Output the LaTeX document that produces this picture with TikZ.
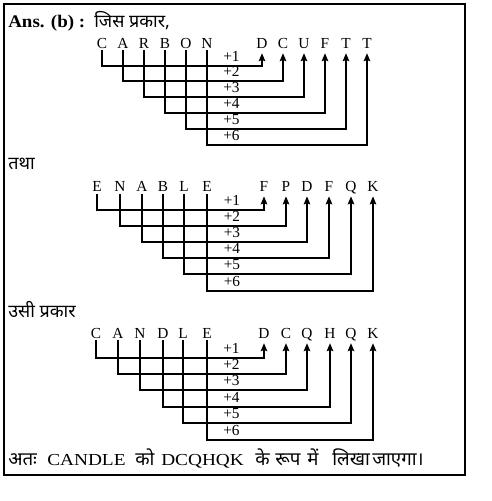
\documentclass[tikz,border=0pt]{standalone}
\usepackage{fontspec}
\setmainfont{Liberation Serif}
\newfontfamily\dev[Script=Devanagari]{Noto Sans}
\newfontfamily\widerm[FakeStretch=1.15]{Liberation Serif}
\newfontfamily\ansrm[FakeStretch=1.07]{Liberation Serif}
\usetikzlibrary{arrows.meta}
\begin{document}
\begin{tikzpicture}[x=0.75pt,y=-0.75pt,
  letter/.style={anchor=base,inner sep=0pt,text depth=0pt,font=\fontsize{11.5}{13}\selectfont},
  plus/.style={anchor=base,inner sep=0pt,font=\fontsize{11.5}{13}\selectfont},
  txt/.style={anchor=base west,inner sep=0pt},
  devtxt/.style={anchor=base west,inner sep=0pt,font=\dev\fontsize{13.5}{15}\selectfont},
  devfin/.style={anchor=base west,inner sep=0pt,font=\dev\fontsize{14}{16}\selectfont},
  fin/.style={anchor=base west,inner sep=0pt,font=\widerm\fontsize{12.6}{14}\selectfont},
  conn/.style={line width=0.9pt,-{Stealth[length=6pt,width=5pt,inset=1pt]}},
  frame/.style={line width=1pt}]
\useasboundingbox (0,0) rectangle (492,501);
\fill[white] (0,0) rectangle (492,501);
\draw[frame] (4,4) rectangle (465,475);

% headings
\node[txt,font=\ansrm\fontsize{13.3}{15}\selectfont\bfseries] (ans) at (8,27) {Ans. (b) :};
\node[devtxt] (h1) at (94,27) {जिस प्रकार,};
\node[devtxt] (h2) at (8,169) {तथा};
\node[devtxt] (h3) at (8,317) {उसी प्रकार};

% block 1: CARBON -> DCUFTT
\foreach \x/\t [count=\i] in {102/C,123/A,144/R,165/B,186/O,207/N}
  \node[letter] (a\i) at (\x,48) {\t};
\foreach \x/\t [count=\i] in {262/D,283/C,304/U,325/F,346/T,367/T}
  \node[letter] (ao\i) at (\x,48) {\t};
\foreach \y [count=\i] in {66,81,97,113,129,145}{
  \coordinate (ar\i) at (0,\y);
  \node[plus] (ap\i) at (231.5,\y-4.5) {+\i};
}
\foreach \i in {1,...,6}
  \draw[conn] ([yshift=-1.5pt]a\i.south) |- (ao\i |- ar\i) -- ([yshift=-3.75pt]ao\i.south);

% block 2: ENABLE -> FPDFQK
\foreach \x/\t [count=\i] in {97/E,120/N,142/A,163/B,184/L,207/E}
  \node[letter] (b\i) at (\x,191.5) {\t};
\foreach \x/\t [count=\i] in {264/F,286/P,307/D,329/F,351/Q,373/K}
  \node[letter] (bo\i) at (\x,191.5) {\t};
\foreach \y [count=\i] in {210,226,242,258,274,291}{
  \coordinate (br\i) at (0,\y);
  \node[plus] (bp\i) at (232,\y-4.5) {+\i};
}
\foreach \i in {1,...,6}
  \draw[conn] ([yshift=-1.5pt]b\i.south) |- (bo\i |- br\i) -- ([yshift=-3.5pt]bo\i.south);

% block 3: CANDLE -> DCQHQK
\foreach \x/\t [count=\i] in {96/C,118/A,140/N,163/D,183/L,207/E}
  \node[letter] (c\i) at (\x,338) {\t};
\foreach \x/\t [count=\i] in {264/D,286/C,307/Q,330/H,351/Q,373/K}
  \node[letter] (co\i) at (\x,338) {\t};
\foreach \y [count=\i] in {358,374,390,407,423,440}{
  \coordinate (cr\i) at (0,\y);
  \node[plus] (cp\i) at (231.5,\y-4.5) {+\i};
}
\foreach \i in {1,...,6}
  \draw[conn] ([yshift=-1.5pt]c\i.south) |- (co\i |- cr\i) -- ([yshift=-3.75pt]co\i.south);

% final line
\node[devfin] (f1) at (8,465) {अतः};
\node[fin] (f2) at (47,465) {CANDLE};
\node[devfin] (f3) at (135,465) {को};
\node[fin] (f4) at (161,465) {DCQHQK};
\node[devfin] (f5) at (255,465) {के};
\node[devfin] (f6) at (275,465) {रूप};
\node[devfin] (f7) at (307,465) {में};
\node[devfin] (f8) at (332,465) {लिखा};
\node[devfin] (f9) at (372,465) {जाएगा।};
\end{tikzpicture}
\end{document}
